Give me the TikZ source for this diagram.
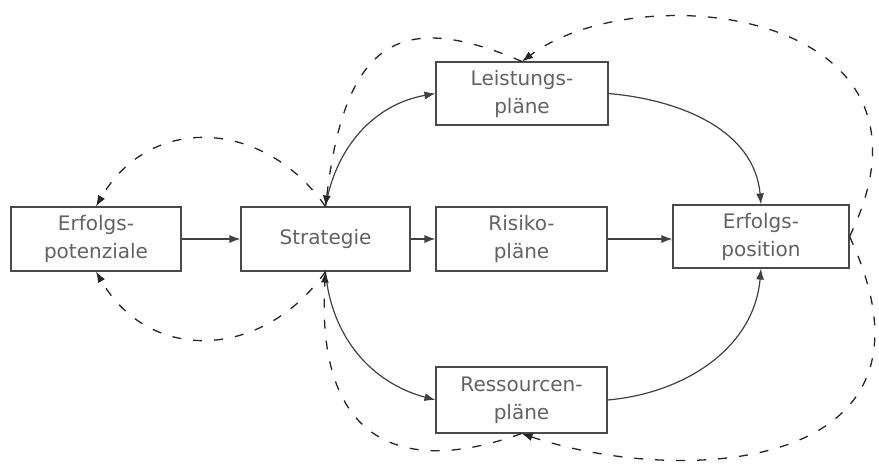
\documentclass[tikz,border=0pt]{standalone}
\usepackage{fontspec}
\setmainfont{DejaVu Sans}
\usetikzlibrary{arrows.meta}
\definecolor{boxline}{HTML}{4A4A4A}
\definecolor{txt}{HTML}{626262}
\definecolor{solidline}{HTML}{404040}
\tikzset{
  box/.style={draw=boxline, line width=1.1pt, inner sep=0pt, align=center,
    text=txt, font=\fontsize{20}{28}\selectfont},
  flow/.style={draw=solidline, line width=1.2pt,
    -{Latex[length=11pt,width=8pt]}},
  feedback/.style={draw=black!85, line width=1.3pt, dash pattern=on 9pt off 12pt,
    -{Latex[length=11pt,width=8pt]}}
}
\begin{document}
\begin{tikzpicture}[x=1pt,y=1pt]
\useasboundingbox (0,0) rectangle (879,-464);
\node[box, minimum width=170pt, minimum height=64pt] (ep) at (96,-239) {Erfolgs-\\potenziale};
\node[box, minimum width=169pt, minimum height=64pt] (s) at (325.5,-239) {Strategie};
\node[box, minimum width=171pt, minimum height=64pt] (r) at (521.5,-239) {Risiko-\\pläne};
\node[box, minimum width=172pt, minimum height=63pt] (l) at (522,-93.5) {Leistungs-\\pläne};
\node[box, minimum width=176pt, minimum height=63pt] (pos) at (761,-236.5) {Erfolgs-\\position};
\node[box, minimum width=171pt, minimum height=66pt] (res) at (521.5,-400) {Ressourcen-\\pläne};

% solid flows
\draw[flow] (ep.east) -- (s.west);
\draw[flow] (s.east) -- (r.west);
\draw[flow] (r.east) -- (r.east -| pos.west);
\draw[flow] (s.north) to[out=80,in=190] (l.west);
\draw[flow] (s.south) to[out=-85,in=165] (res.west);
\draw[flow] (l.east) to[out=-5,in=95] (pos.north);
\draw[flow] (res.east) to[out=5,in=265] (pos.south);

% dashed feedback
\draw[feedback] (s.north) to[out=125,in=60,looseness=1.2] (ep.north);
\draw[feedback] (s.south) to[out=-125,in=-60,looseness=1.2] (ep.south);
\draw[feedback] (l.north) .. controls +(-122,52) and +(20,167) .. (s.north);
\draw[feedback] (res.south) .. controls +(-122,-44) and +(-10,-169) .. (s.south);
\draw[feedback] (pos.east) .. controls +(111,226) and +(118,88) .. (l.north);
\draw[feedback] (pos.east) .. controls +(111,-238) and +(158,-53) .. (res.south);
\end{tikzpicture}
\end{document}
